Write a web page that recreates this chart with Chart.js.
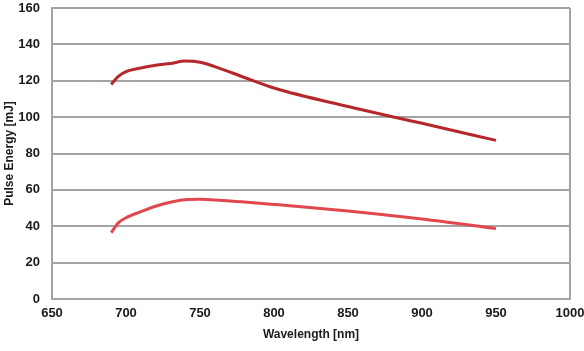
<!DOCTYPE html>
<html lang="en">
<head>
    <meta charset="UTF-8">
    <title>Pulse Energy vs Wavelength</title>
    <script src="https://cdn.jsdelivr.net/npm/chart.js"></script>
    <style>
        html, body { margin: 0; padding: 0; background: #fff; }
        #wrap { width: 584px; height: 351px; }
    </style>
</head>
<body>
    <div id="wrap"><canvas id="myChart" width="584" height="351"></canvas></div>

    <script>
        // wavelength samples [nm]
        const wavelength = [690, 695, 700, 710, 720, 730, 740, 750, 760, 780, 800, 850, 880, 900, 950];
        // upper curve (dark red) [mJ]
        const energyHigh = [118, 122.5, 125, 127, 128.5, 129.5, 130.8, 130.2, 127.8, 121.8, 116, 105.8, 100.2, 96.6, 87.2];
        // lower curve (light red) [mJ]
        const energyLow = [36.5, 42, 44.7, 48, 51, 53.2, 54.6, 54.8, 54.5, 53.3, 52, 48.4, 45.8, 44, 38.7];

        const xTicks = [650, 700, 750, 800, 850, 900, 950, 1000];
        const yTicks = [0, 20, 40, 60, 80, 100, 120, 140, 160];

        const toPoints = (xs, ys) => xs.map((x, i) => ({ x: x, y: ys[i] }));

        // right edge of the plot area
        const frame = {
            id: 'frame',
            afterDraw(chart) {
                const a = chart.chartArea;
                const ctx = chart.ctx;
                ctx.save();
                ctx.strokeStyle = '#a3a3a3';
                ctx.lineWidth = 2;
                ctx.beginPath();
                ctx.moveTo(a.right, a.top);
                ctx.lineTo(a.right, a.bottom);
                ctx.stroke();
                ctx.restore();
            }
        };

        const ctx = document.getElementById('myChart').getContext('2d');
        new Chart(ctx, {
            type: 'line',
            data: {
                datasets: [{
                    label: 'High',
                    data: toPoints(wavelength, energyHigh),
                    borderColor: '#b5272b',
                    borderWidth: 3,
                    pointRadius: 0,
                    cubicInterpolationMode: 'monotone',
                    fill: false
                }, {
                    label: 'Low',
                    data: toPoints(wavelength, energyLow),
                    borderColor: '#e0484e',
                    borderWidth: 3,
                    pointRadius: 0,
                    cubicInterpolationMode: 'monotone',
                    fill: false
                }]
            },
            options: {
                responsive: false,
                animation: false,
                layout: { padding: { top: 0, right: 0, left: 0, bottom: 10 } },
                plugins: {
                    legend: { display: false },
                    tooltip: { enabled: false }
                },
                scales: {
                    x: {
                        type: 'linear',
                        min: 650,
                        max: 1000,
                        afterBuildTicks: s => { s.ticks = xTicks.map(v => ({ value: v })); },
                        afterFit: s => { s.paddingLeft = 0; s.paddingRight = 14; },
                        grid: { display: false, drawTicks: false },
                        border: { display: true, color: '#a3a3a3', width: 2 },
                        ticks: {
                            color: '#1a1a1a',
                            padding: 8,
                            maxRotation: 0,
                            callback: v => String(v),
                            font: { family: 'Liberation Sans', size: 13, weight: 'bold', lineHeight: 1 }
                        },
                        title: {
                            display: true,
                            text: 'Wavelength [nm]',
                            color: '#1a1a1a',
                            padding: { top: 1, bottom: 0 },
                            font: { family: 'Liberation Sans', size: 12, weight: 'bold', lineHeight: 1 }
                        }
                    },
                    y: {
                        min: 0,
                        max: 160,
                        afterBuildTicks: s => { s.ticks = yTicks.map(v => ({ value: v })); },
                        afterFit: s => { s.width = 52; s.paddingTop = 8; s.paddingBottom = 0; },
                        grid: { color: '#a3a3a3', lineWidth: 2, drawTicks: false },
                        border: { display: true, color: '#a3a3a3', width: 2 },
                        ticks: {
                            color: '#1a1a1a',
                            padding: 12,
                            font: { family: 'Liberation Sans', size: 13, weight: 'bold' }
                        },
                        title: {
                            display: true,
                            text: 'Pulse Energy [mJ]',
                            color: '#1a1a1a',
                            padding: { top: 2, bottom: 0 },
                            font: { family: 'Liberation Sans', size: 12, weight: 'bold' }
                        }
                    }
                }
            },
            plugins: [frame]
        });
    </script>
</body>
</html>
